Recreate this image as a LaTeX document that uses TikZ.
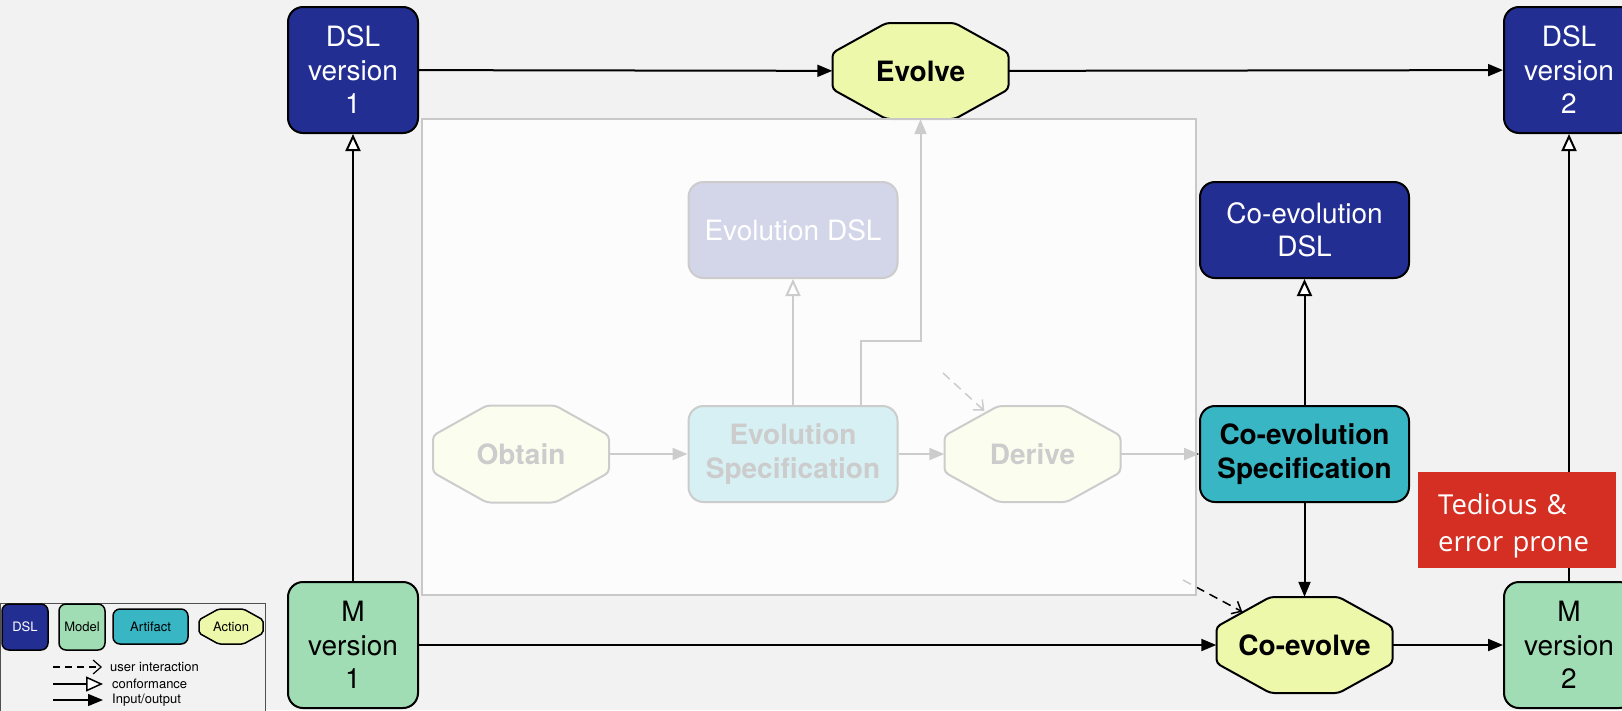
\documentclass[tikz,border=0pt]{standalone}
\usepackage{fontspec}
\setmainfont{TeX Gyre Heros}
\newfontfamily\calloutfont{Open Sans}
\usetikzlibrary{arrows.meta}

\definecolor{dslblue}{HTML}{232E93}
\definecolor{modelgreen}{HTML}{A0DCB4}
\definecolor{artteal}{HTML}{38B6C4}
\definecolor{actyellow}{HTML}{EDF8AB}
\definecolor{pagegray}{HTML}{F2F2F2}
\definecolor{calloutred}{HTML}{D52F23}
\definecolor{panelline}{HTML}{C8C8C8}
\definecolor{legframe}{HTML}{505050}

\newcommand{\mainsize}{\fontsize{28}{33.5}\selectfont}
\newcommand{\legsize}{\fontsize{13}{15}\selectfont}
% octagon outline for the actions: centre, half width, half height
\newcommand{\octagon}[4][]{%
  \draw[line width=2pt,fill=actyellow,rounded corners=4pt,shift={(#2)},#1]
    (-#3,-0.38*#4) -- (-#3,0.38*#4) -- (-0.39*#3,#4) -- (0.39*#3,#4)
    -- (#3,0.38*#4) -- (#3,-0.38*#4) -- (0.39*#3,-#4) -- (-0.39*#3,-#4) -- cycle;}

\begin{document}
\begin{tikzpicture}[x=1pt,y=-1pt,
  box/.style={rectangle,rounded corners=15pt,draw=black,line width=2pt,align=center,font=\mainsize,inner sep=2pt},
  dsl/.style={box,fill=dslblue,text=white},
  model/.style={box,fill=modelgreen},
  artifact/.style={box,fill=artteal,font=\mainsize\bfseries},
  version/.style={minimum width=130pt,minimum height=126pt},
  wide/.style={minimum width=209pt,minimum height=96pt},
  action/.style={rectangle,minimum width=176pt,minimum height=96pt,font=\mainsize\bfseries},
  io/.style={-{Triangle[length=15pt,width=12pt]},line width=2pt},
  conf/.style={-{Triangle[open,fill=white,length=17pt,width=15pt]},line width=2pt},
  user/.style={-{Straight Barb[length=8pt,width=14pt]},line width=1.5pt,dash pattern=on 9pt off 6pt},
  legbox/.style={rounded corners=7pt,line width=1.5pt,font=\legsize,inner sep=1pt},
  legtext/.style={anchor=west,font=\legsize,inner sep=0pt},
  callout/.style={anchor=north west,fill=calloutred,text=white,font=\calloutfont\fontsize{27.5}{37}\selectfont,
    align=left,text width=158pt,inner xsep=20pt,inner ysep=0pt,text height=33pt,minimum height=96pt}]
\useasboundingbox (0,0) rectangle (1622,710);
\clip (0,0) rectangle (1622,710);
\fill[pagegray] (0,0) rectangle (1622,710);

\node[dsl,version] (dsl1) at (353,70) {DSL\\version\\1};
\node[dsl,version] (dsl2) at (1569,70) {DSL\\version\\2};
\node[model,version] (m1) at (353,645) {M\\version\\1};
\node[model,version] (m2) at (1569,645) {M\\version\\2};
\octagon{920.5,71}{88}{48}
\node[action] (evolve) at (920.5,71) {Evolve};
\octagon{1304.5,645}{88}{48}
\node[action] (coevolve) at (1304.5,645) {Co-evolve};

\node[dsl,wide] (evodsl) at (793,230) {Evolution DSL};
\node[artifact,wide] (evospec) at (793,454) {Evolution\\Specification};
\octagon{521,454}{88}{48.5}
\node[action] (obtain) at (521,454) {Obtain};
\octagon{1032.5,454}{88}{48}
\node[action] (derive) at (1032.5,454) {Derive};
\node[dsl,wide] (coevodsl) at (1304.5,230) {Co-evolution\\DSL};
\node[artifact,wide] (coevospec) at (1304.5,454) {Co-evolution\\Specification};

\draw[io] (dsl1) -- (evolve);
\draw[io] (evolve) -- (dsl2);
\draw[io] (m1) -- (coevolve);
\draw[io] (coevolve) -- (m2);
\draw[conf] (m1) -- (dsl1);
\draw[conf] (m2) -- (dsl2);
\draw[io] (obtain) -- (evospec);
\draw[io] (evospec) -- (derive);
\draw[io] (derive) -- (coevospec);
\draw[conf] (evospec) -- (evodsl);
\draw[io] ([xshift=68pt]evospec.north) -- ++(0,-64) -| (evolve.south);
\draw[conf] (coevospec) -- (coevodsl);
\draw[io] (coevospec) -- (coevolve);
\coordinate (user1) at (943,373);
\coordinate (user2) at (1183,580);
\draw[user] (user1) -- ([shift={(40,5)}]derive.north west);
\draw[user] (user2) -- ([shift={(26,15)}]coevolve.north west);

\fill[white,opacity=0.8] (422,119) rectangle (1196,595);
\draw[panelline,line width=1.5pt] (422,119) rectangle (1196,595);

\node[callout] (tedious) at (1418,472) {Tedious \&\\error prone};

\draw[legframe,line width=1pt,fill=pagegray] (0.5,603) rectangle (265,720);
\node[dsl,legbox,minimum width=46pt,minimum height=46pt] (legdsl) at (25,627) {DSL};
\node[model,legbox,minimum width=46pt,minimum height=46pt] (legmodel) at (82,627) {Model};
\node[artifact,legbox,minimum width=75pt,minimum height=35pt] (legart) at (150.5,626.5) {Artifact};
\octagon[line width=1.5pt,rounded corners=2pt]{231,626.5}{32}{17.5}
\node[font=\legsize] (legact) at (231,626.5) {Action};
\node[legtext] (leguser) at (110,667) {user interaction};
\node[legtext] (legconf) at (112,684) {conformance};
\node[legtext] (legio) at (112,700) {Input/output};
\draw[user,line width=1.2pt,dash pattern=on 7pt off 5pt] ([xshift=-57pt]leguser.west) -- ([xshift=-8pt]leguser.west);
\draw[conf,line width=1.5pt] ([xshift=-59pt]legconf.west) -- ([xshift=-9pt]legconf.west);
\draw[io,line width=1.5pt] ([xshift=-59pt]legio.west) -- ([xshift=-9pt]legio.west);
\end{tikzpicture}
\end{document}
